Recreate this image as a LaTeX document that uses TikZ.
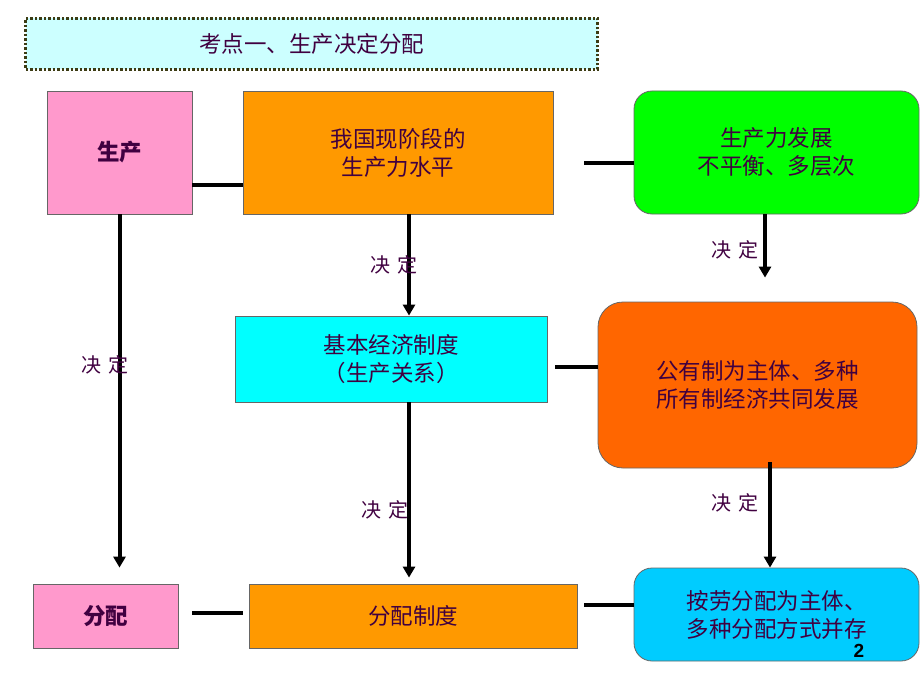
\documentclass[tikz,border=0pt]{standalone}
\usepackage{fontspec}
\setmainfont{Noto Sans CJK SC}
\newfontfamily\numfont{Liberation Sans}
\usetikzlibrary{calc,arrows.meta}
\definecolor{txtpurple}{RGB}{64,0,64}
\definecolor{titlebg}{RGB}{204,255,255}
\definecolor{dotolive}{RGB}{60,60,20}
\definecolor{pinkbox}{RGB}{255,153,204}
\definecolor{orangebox}{RGB}{255,153,0}
\definecolor{greenbox}{RGB}{0,255,0}
\definecolor{cyanbox}{RGB}{0,255,255}
\definecolor{redbox}{RGB}{255,102,0}
\definecolor{bluebox}{RGB}{0,204,255}

\begin{document}
\begin{tikzpicture}[x=1pt,y=-1pt,
    box/.style={draw=black!60, line width=0.8pt, text=txtpurple, align=center,
      font=\fontsize{22.5}{28}\selectfont, inner sep=0pt},
    link/.style={line width=4pt},
    arr/.style={line width=4pt, -{Triangle[length=11pt,width=12pt]}},
    lbl/.style={text=txtpurple, font=\fontsize{20}{22}\selectfont}]
  \useasboundingbox (0,0) rectangle (920,690);
  % title
  \node (title) [box, fill=titlebg, draw=dotolive, line width=3pt, dash pattern=on 2.5pt off 2pt,
    minimum width=572pt, minimum height=51pt] at (311.5,44) {考点一、生产决定分配};
  % top row
  \node (sc) [box, fill=pinkbox, minimum width=145pt, minimum height=123pt] at (119.5,152.5) {\bfseries 生产};
  \node (lvl) [box, fill=orangebox, minimum width=310pt, minimum height=123pt] at (398,152.5) {我国现阶段的\\生产力水平};
  \node (dev) [box, fill=greenbox, rounded corners=18pt, minimum width=285pt, minimum height=123pt] at (776.5,152.5) {生产力发展\\不平衡、多层次};
  % middle row
  \node (sys) [box, fill=cyanbox, minimum width=312pt, minimum height=86pt] at (391,359) {基本经济制度\\（生产关系）};
  \node (own) [box, fill=redbox, rounded corners=25pt, minimum width=319pt, minimum height=166pt] at (757.5,385) {公有制为主体、多种\\所有制经济共同发展};
  % bottom row
  \node (fp) [box, fill=pinkbox, minimum width=145pt, minimum height=64pt] at (105.5,616) {\bfseries 分配};
  \node (fpsys) [box, fill=orangebox, minimum width=328pt, minimum height=64pt] at (413,616) {分配制度};
  \node (dist) [box, fill=bluebox, rounded corners=18pt, minimum width=285pt, minimum height=93pt] at (776.5,614.5) {按劳分配为主体、\\多种分配方式并存};
  \node (pg) [font=\numfont\bfseries\fontsize{19}{22}\selectfont] at (859,651) {2};

  % connectors
  \draw[link] ($(sc.east)+(0,32)$) -- ($(lvl.west)+(0,32)$);
  \coordinate (devl) at (584,163);
  \draw[link] (devl) -- (devl -| dev.west);
  \coordinate (sysr) at ($(sys.east)+(8,8)$);
  \draw[link] (sysr) -- (sysr -| own.west);
  \draw[link, shorten <=14pt, shorten >=6pt] ($(fp.east)+(0,-3)$) -- ($(fpsys.west)+(0,-3)$);
  \coordinate (fpsysr) at ($(fpsys.east)+(7,-11)$);
  \draw[link] (fpsysr) -- (fpsysr -| dist.west);

  \draw[arr, shorten >=16pt] (sc.south) -- (sc.south |- fp.north);
  \draw[arr] ([xshift=11pt]lvl.south) -- ([xshift=11pt]lvl.south |- sys.north);
  \draw[arr, shorten >=24pt] ([xshift=-11.5pt]dev.south) -- ([xshift=-11.5pt]dev.south |- own.north);
  \draw[arr, shorten >=6pt] ([xshift=18pt]sys.south) -- ([xshift=18pt]sys.south |- fpsys.north);
  \draw[arr, shorten <=-6pt, shorten >=0pt] ([xshift=12.5pt]own.south) -- ([xshift=12.5pt]own.south |- dist.north);

  % labels
  \node (l1) [lbl] at (105,365) {决\,\,定};
  \node (l2) [lbl] at (394,265) {决\,\,定};
  \node (l3) [lbl] at (735,250) {决\,\,定};
  \node (l4) [lbl] at (385,510) {决\,\,定};
  \node (l5) [lbl] at (735,503) {决\,\,定};
\end{tikzpicture}
\end{document}
